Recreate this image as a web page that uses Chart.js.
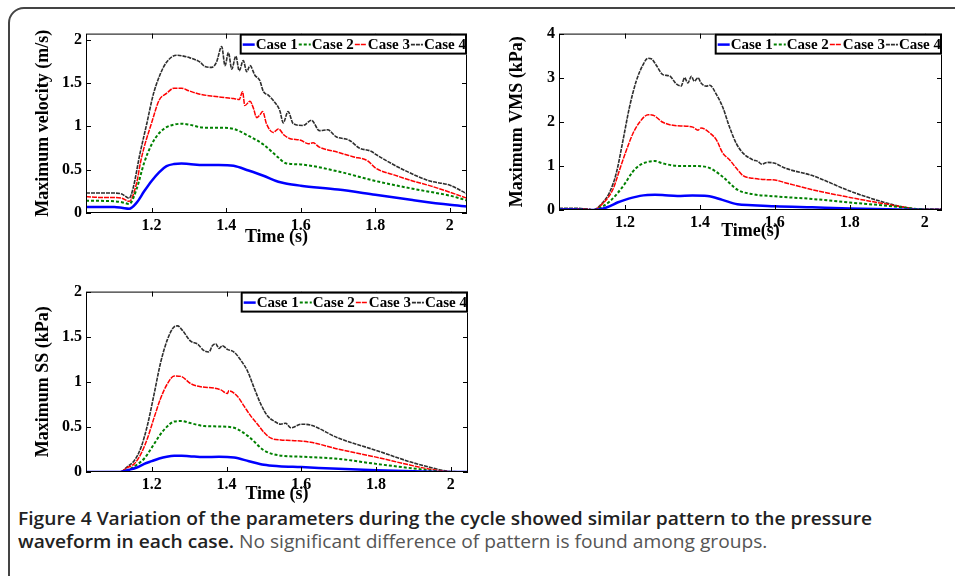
<!DOCTYPE html>
<html>
<head>
<meta charset="utf-8">
<script src="https://cdn.jsdelivr.net/npm/chart.js"></script>
<style>
  body { margin: 0; width: 955px; height: 576px; overflow: hidden; background: #fff; position: relative; }
  #frame { position: absolute; left: 8px; top: 7px; width: 1000px; height: 700px; border: 2px solid #444; border-radius: 16px; box-sizing: border-box; }
  canvas { position: absolute; }
  #caption { position: absolute; left: 18px; top: 507px; font-family: "Open Sans", sans-serif; font-size: 18px; line-height: 23px; color: #555; white-space: nowrap; transform-origin: 0 0; }
  #caption b { color: #222; font-weight: 600; }
</style>
</head>
<body>
<div id="frame"></div>
<canvas id="vel" width="447" height="228" style="left:33px;top:20px"></canvas>
<canvas id="vms" width="448" height="222" style="left:507px;top:20px"></canvas>
<canvas id="ss" width="448" height="227" style="left:33px;top:278px"></canvas>
<div id="caption">
  <div id="cap1"><b>Figure 4 Variation of the parameters during the cycle showed similar pattern to the pressure</b></div>
  <div><b>waveform in each case.</b> No significant difference of pattern is found among groups.</div>
</div>
<script>
const caseNames = ["Case 1", "Case 2", "Case 3", "Case 4"]
const timeTicks = [1.2, 1.4, 1.6, 1.8, 2]
const timeMin = 1.024
const timeMax = 2.046

// Maximum velocity (m/s)
const velTicks = [0, 0.5, 1, 1.5, 2]
const velTime = [1.024, 1.06, 1.10, 1.12, 1.14, 1.16, 1.18, 1.20, 1.22, 1.24, 1.26, 1.28, 1.30, 1.34, 1.38, 1.42, 1.46, 1.50, 1.54, 1.56, 1.60, 1.70, 1.80, 1.90, 2.00, 2.046]
const velCase1 = [0.07, 0.07, 0.068, 0.06, 0.05, 0.12, 0.25, 0.37, 0.47, 0.54, 0.565, 0.57, 0.565, 0.555, 0.555, 0.545, 0.49, 0.43, 0.36, 0.34, 0.315, 0.27, 0.21, 0.15, 0.095, 0.075]
const velCase2 = [0.14, 0.14, 0.135, 0.125, 0.105, 0.28, 0.58, 0.79, 0.92, 0.99, 1.02, 1.03, 1.02, 0.985, 0.985, 0.97, 0.89, 0.79, 0.64, 0.575, 0.56, 0.48, 0.37, 0.28, 0.20, 0.145]
const velTime3 = [1.024, 1.06, 1.10, 1.12, 1.14, 1.16, 1.17, 1.18, 1.20, 1.22, 1.24, 1.26, 1.28, 1.30, 1.33, 1.36, 1.40, 1.42, 1.435, 1.444, 1.45, 1.464, 1.473, 1.482, 1.49, 1.498, 1.508, 1.526, 1.54, 1.555, 1.57, 1.60, 1.62, 1.633, 1.65, 1.70, 1.74, 1.78, 1.80, 1.85, 1.90, 1.95, 2.00, 2.046]
const velCase3 = [0.19, 0.18, 0.18, 0.17, 0.135, 0.35, 0.58, 0.76, 1.04, 1.30, 1.38, 1.44, 1.44, 1.41, 1.37, 1.35, 1.33, 1.32, 1.31, 1.40, 1.24, 1.29, 1.21, 1.10, 1.13, 1.17, 1.03, 0.93, 0.97, 0.90, 0.86, 0.84, 0.80, 0.81, 0.76, 0.70, 0.65, 0.60, 0.52, 0.44, 0.37, 0.31, 0.24, 0.17]
const velTime4 = [1.024, 1.06, 1.10, 1.12, 1.14, 1.15, 1.169, 1.187, 1.204, 1.222, 1.24, 1.267, 1.303, 1.33, 1.343, 1.361, 1.374, 1.388, 1.397, 1.406, 1.415, 1.426, 1.435, 1.446, 1.455, 1.464, 1.477, 1.49, 1.50, 1.513, 1.526, 1.544, 1.553, 1.566, 1.58, 1.606, 1.629, 1.65, 1.672, 1.695, 1.73, 1.757, 1.79, 1.80, 1.875, 1.946, 2.00, 2.046]
const velCase4 = [0.23, 0.23, 0.23, 0.22, 0.17, 0.28, 0.69, 1.03, 1.36, 1.59, 1.74, 1.82, 1.79, 1.74, 1.69, 1.68, 1.74, 1.92, 1.70, 1.85, 1.66, 1.81, 1.64, 1.76, 1.63, 1.70, 1.59, 1.53, 1.40, 1.36, 1.30, 1.18, 1.04, 1.17, 1.03, 1.01, 1.07, 0.95, 0.96, 0.88, 0.84, 0.75, 0.71, 0.68, 0.50, 0.37, 0.32, 0.22]

// Maximum VMS (kPa)
const vmsTicks = [0, 1, 2, 3, 4]
const vmsTime = [1.024, 1.06, 1.10, 1.115, 1.14, 1.16, 1.18, 1.20, 1.22, 1.24, 1.26, 1.28, 1.30, 1.34, 1.38, 1.42, 1.46, 1.50, 1.54, 1.60, 1.70, 1.80, 1.90, 1.96, 2.00, 2.046]
const vmsCase1 = [0.01, 0.01, 0.0, 0.0, 0.03, 0.09, 0.17, 0.23, 0.28, 0.32, 0.34, 0.345, 0.34, 0.32, 0.33, 0.32, 0.23, 0.13, 0.11, 0.085, 0.06, 0.035, 0.015, 0.005, 0.0, 0.0]
const vmsCase2 = [0.02, 0.02, 0.01, 0.0, 0.08, 0.2, 0.38, 0.6, 0.86, 1.02, 1.09, 1.11, 1.06, 1.00, 1.00, 0.97, 0.76, 0.46, 0.36, 0.31, 0.25, 0.17, 0.095, 0.04, 0.01, 0.0]
const vmsTime3 = [1.024, 1.06, 1.10, 1.115, 1.14, 1.168, 1.186, 1.204, 1.221, 1.239, 1.262, 1.275, 1.301, 1.328, 1.363, 1.381, 1.395, 1.403, 1.426, 1.444, 1.461, 1.479, 1.497, 1.515, 1.541, 1.573, 1.60, 1.627, 1.70, 1.80, 1.893, 1.947, 1.99, 2.046]
const vmsCase3 = [0.03, 0.03, 0.02, 0.0, 0.14, 0.47, 0.92, 1.36, 1.73, 1.99, 2.16, 2.15, 1.99, 1.92, 1.90, 1.88, 1.81, 1.86, 1.75, 1.59, 1.29, 1.14, 0.95, 0.78, 0.72, 0.69, 0.68, 0.62, 0.46, 0.285, 0.14, 0.06, 0.01, 0.01]
const vmsTime4 = [1.024, 1.06, 1.10, 1.115, 1.141, 1.159, 1.177, 1.195, 1.212, 1.23, 1.248, 1.261, 1.27, 1.283, 1.301, 1.319, 1.337, 1.35, 1.359, 1.368, 1.377, 1.385, 1.395, 1.403, 1.417, 1.426, 1.444, 1.461, 1.479, 1.497, 1.515, 1.541, 1.555, 1.565, 1.58, 1.60, 1.627, 1.70, 1.80, 1.893, 1.947, 1.982, 2.046]
const vmsCase4 = [0.04, 0.04, 0.02, 0.0, 0.17, 0.40, 0.84, 1.59, 2.33, 2.92, 3.29, 3.44, 3.43, 3.29, 3.07, 3.04, 2.86, 2.81, 3.0, 2.88, 3.03, 2.92, 3.0, 2.88, 2.81, 2.83, 2.62, 2.33, 1.88, 1.51, 1.29, 1.14, 1.10, 1.04, 1.08, 1.06, 0.95, 0.78, 0.43, 0.17, 0.06, 0.02, 0.02]

// Maximum SS (kPa)
const ssTicks = [0, 0.5, 1, 1.5, 2]
const ssTime = [1.024, 1.06, 1.10, 1.115, 1.14, 1.16, 1.18, 1.20, 1.22, 1.24, 1.26, 1.28, 1.30, 1.34, 1.38, 1.42, 1.46, 1.50, 1.54, 1.60, 1.70, 1.80, 1.90, 2.00, 2.046]
const ssCase1 = [0, 0, 0, 0, 0.025, 0.05, 0.09, 0.12, 0.15, 0.17, 0.18, 0.18, 0.175, 0.165, 0.17, 0.16, 0.12, 0.08, 0.065, 0.055, 0.035, 0.02, 0.008, 0.0, 0.0]
const ssCase2 = [0, 0, 0, 0, 0.03, 0.08, 0.15, 0.27, 0.40, 0.50, 0.56, 0.565, 0.545, 0.51, 0.505, 0.49, 0.39, 0.24, 0.185, 0.17, 0.145, 0.09, 0.04, 0.0, 0.0]
const ssTime3 = [1.024, 1.06, 1.10, 1.115, 1.135, 1.153, 1.171, 1.189, 1.206, 1.224, 1.242, 1.26, 1.278, 1.304, 1.331, 1.367, 1.385, 1.402, 1.406, 1.429, 1.447, 1.465, 1.483, 1.50, 1.519, 1.545, 1.572, 1.625, 1.697, 1.80, 1.893, 1.946, 1.99, 2.046]
const ssCase3 = [0, 0, 0, 0, 0.05, 0.09, 0.20, 0.38, 0.60, 0.82, 0.98, 1.065, 1.06, 0.98, 0.945, 0.93, 0.91, 0.87, 0.90, 0.84, 0.73, 0.62, 0.53, 0.44, 0.375, 0.355, 0.35, 0.33, 0.255, 0.165, 0.075, 0.03, 0.005, 0.0]
const ssTime4 = [1.024, 1.06, 1.10, 1.115, 1.135, 1.153, 1.171, 1.189, 1.206, 1.224, 1.242, 1.26, 1.269, 1.282, 1.304, 1.322, 1.34, 1.353, 1.362, 1.371, 1.38, 1.389, 1.402, 1.42, 1.438, 1.456, 1.474, 1.492, 1.51, 1.527, 1.545, 1.558, 1.572, 1.60, 1.625, 1.697, 1.80, 1.893, 1.946, 1.99, 2.046]
const ssCase4 = [0, 0, 0, 0, 0.06, 0.125, 0.27, 0.53, 0.86, 1.22, 1.47, 1.61, 1.62, 1.57, 1.45, 1.42, 1.345, 1.33, 1.40, 1.42, 1.37, 1.40, 1.36, 1.33, 1.24, 1.12, 0.93, 0.75, 0.62, 0.565, 0.53, 0.54, 0.49, 0.53, 0.52, 0.38, 0.24, 0.11, 0.05, 0.01, 0.0]

const caseStyles = [
  { borderColor: "#0000ff", borderWidth: 2.5 },
  { borderColor: "#008000", borderWidth: 2, borderDash: [3, 2] },
  { borderColor: "#ff0000", borderWidth: 1.5, borderDash: [5, 1] },
  { borderColor: "#2e2e2e", borderWidth: 1.6, borderDash: [4, 1] },
]

const serif = "'Liberation Serif', 'Times New Roman', serif"
Chart.defaults.font.family = serif
Chart.defaults.color = "#000"

// axes box, inward tick marks and the boxed legend, MATLAB style
const matlabFrame = {
  id: "matlabFrame",
  afterDatasetsDraw(chart) {
    const { ctx, chartArea: a, scales } = chart
    const x = scales.x
    const y = scales.y
    ctx.save()
    ctx.strokeStyle = "#000"
    ctx.lineWidth = 1
    ctx.setLineDash([])
    ctx.strokeRect(a.left + 0.5, a.top + 0.5, a.width - 1, a.height - 1)
    ctx.beginPath()
    x.ticks.forEach((t) => {
      const px = Math.round(x.getPixelForValue(t.value)) + 0.5
      ctx.moveTo(px, a.bottom); ctx.lineTo(px, a.bottom - 5)
      ctx.moveTo(px, a.top); ctx.lineTo(px, a.top + 5)
    })
    y.ticks.forEach((t) => {
      const py = Math.round(y.getPixelForValue(t.value)) + 0.5
      ctx.moveTo(a.left, py); ctx.lineTo(a.left + 5, py)
      ctx.moveTo(a.right, py); ctx.lineTo(a.right - 5, py)
    })
    ctx.stroke()

    // legend
    ctx.font = "bold 15px " + serif
    const sample = 12
    const widths = chart.data.datasets.map((d) => ctx.measureText(d.label).width)
    const boxW = widths.reduce((s, w) => s + sample + 1 + w + 1, 0) + 3
    const boxH = 21
    const bx = a.right - boxW
    const by = a.top
    ctx.fillStyle = "#fff"
    ctx.fillRect(bx, by, boxW, boxH)
    ctx.lineWidth = 2
    ctx.strokeRect(bx + 1, by + 1, boxW - 2, boxH - 2)
    let cx = bx + 3
    const cy = by + boxH / 2 + 0.5
    chart.data.datasets.forEach((d, i) => {
      ctx.beginPath()
      ctx.strokeStyle = d.borderColor
      ctx.lineWidth = d.borderWidth
      ctx.setLineDash(d.borderDash || [])
      ctx.moveTo(cx, cy); ctx.lineTo(cx + sample, cy)
      ctx.stroke()
      ctx.setLineDash([])
      ctx.fillStyle = "#000"
      ctx.textBaseline = "middle"
      ctx.fillText(d.label, cx + sample + 1, cy + 1)
      cx += sample + 1 + widths[i] + 1
    })
    ctx.restore()
  },
}

function makeChart(id, box, xTitle, yTitle, yMax, yTicks, series) {
  const datasets = series.map(([times, values], i) => ({
    label: caseNames[i],
    data: times.map((t, k) => ({ x: t, y: values[k] })),
    ...caseStyles[i],
    fill: false,
  }))
  const tickFont = { family: serif, size: 16, weight: "bold" }
  const titleFont = { family: serif, size: 18, weight: "bold" }
  return new Chart(document.getElementById(id), {
    type: "line",
    data: { datasets },
    plugins: [matlabFrame],
    options: {
      responsive: false,
      animation: false,
      devicePixelRatio: 1,
      layout: { padding: { top: box.padTop, right: box.padRight, left: 0, bottom: 0 } },
      plugins: { legend: { display: false }, tooltip: { enabled: false } },
      elements: { point: { radius: 0 }, line: { cubicInterpolationMode: "monotone" } },
      scales: {
        x: {
          type: "linear",
          min: timeMin,
          max: timeMax,
          grid: { display: false, drawTicks: false },
          border: { display: false },
          afterBuildTicks: (s) => { s.ticks = timeTicks.map((v) => ({ value: v })) },
          afterFit: (s) => { s.height = box.xHeight },
          ticks: { padding: 3, color: "#000", font: tickFont, maxRotation: 0, autoSkip: false, callback: (v) => String(v) },
          title: { display: true, text: xTitle, color: "#000", font: titleFont, padding: 0 },
        },
        y: {
          min: 0,
          max: yMax,
          grid: { display: false, drawTicks: false },
          border: { display: false },
          afterBuildTicks: (s) => { s.ticks = yTicks.map((v) => ({ value: v })) },
          afterFit: (s) => { s.width = box.yWidth },
          ticks: { padding: 4, color: "#000", font: tickFont, autoSkip: false, callback: (v) => String(v) },
          title: { display: true, text: yTitle, color: "#000", font: titleFont, padding: 0 },
        },
      },
    },
  })
}

makeChart("vel", { padTop: 9, padRight: 13, yWidth: 53, xHeight: 35 }, "Time (s)", "Maximum velocity (m/s)", 2.07, velTicks,
  [[velTime, velCase1], [velTime, velCase2], [velTime3, velCase3], [velTime4, velCase4]])
makeChart("vms", { padTop: 11, padRight: 13, yWidth: 52, xHeight: 32 }, "Time(s)", "Maximum VMS (kPa)", 4, vmsTicks,
  [[vmsTime, vmsCase1], [vmsTime, vmsCase2], [vmsTime3, vmsCase3], [vmsTime4, vmsCase4]])
makeChart("ss", { padTop: 9, padRight: 13, yWidth: 53, xHeight: 33 }, "Time (s)", "Maximum SS (kPa)", 2, ssTicks,
  [[ssTime, ssCase1], [ssTime, ssCase2], [ssTime3, ssCase3], [ssTime4, ssCase4]])

// squeeze the caption to the width of the original first line
const cap = document.getElementById("caption")
const w1 = document.getElementById("cap1").firstElementChild.getBoundingClientRect().width
cap.style.transform = "scaleX(" + (854 / w1) + ")"
</script>
</body>
</html>
